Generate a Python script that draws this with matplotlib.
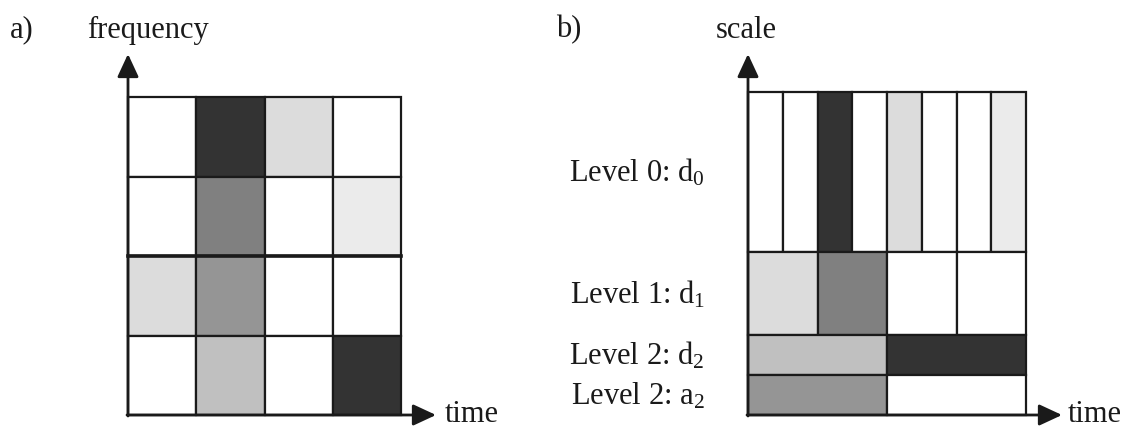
import matplotlib
matplotlib.use('Agg')
import matplotlib.pyplot as plt
from matplotlib.patches import Rectangle

# gray level of each cell (0 = black, 255 = white), top row first
tf_shades = [
    [255, 51, 220, 255],
    [255, 128, 255, 235],
    [220, 149, 255, 255],
    [255, 192, 255, 51],
]

# wavelet levels, top to bottom: label, subscript, gray levels of the cells
level_names = ['Level 0: d', 'Level 1: d', 'Level 2: d', 'Level 2: a']
level_subs = ['0', '1', '2', '2']
level_shades = [
    [255, 255, 51, 255, 220, 255, 255, 235],
    [220, 128, 255, 255],
    [192, 51],
    [149, 255],
]
level_heights = [160, 83, 40, 40]

W, H = 1129, 428
plt.rcParams['font.family'] = ['Liberation Serif', 'DejaVu Serif']
plt.rcParams['mathtext.fontset'] = 'custom'
plt.rcParams['mathtext.rm'] = 'Liberation Serif'
plt.rcParams['mathtext.default'] = 'regular'

fig = plt.figure(figsize=(W / 100, H / 100), dpi=100)
ax = fig.add_axes([0, 0, 1, 1])
ax.set_xlim(0, W)
ax.set_ylim(H, 0)
ax.axis('off')

fs = 22
ink = '#1a1a1a'


def gray(v):
    return (v / 255, v / 255, v / 255)


def axes_arrows(x0, y0, top, right):
    style = '-|>,head_width=0.65,head_length=1.4'
    ax.annotate('', xy=(x0, top), xytext=(x0, y0 + 1),
                arrowprops=dict(arrowstyle=style, lw=2, color=ink,
                                shrinkA=0, shrinkB=0))
    ax.annotate('', xy=(right, y0), xytext=(x0 - 1, y0),
                arrowprops=dict(arrowstyle=style, lw=2, color=ink,
                                shrinkA=0, shrinkB=0))


# a) time-frequency tiling
ax_l, ax_r, ax_t, ax_b = 128, 401, 97, 415
nrows, ncols = len(tf_shades), len(tf_shades[0])
cw = (ax_r - ax_l) / ncols
ch = (ax_b - ax_t) / nrows
for i, row in enumerate(tf_shades):
    for j, v in enumerate(row):
        ax.add_patch(Rectangle((ax_l + j * cw, ax_t + i * ch), cw, ch,
                               facecolor=gray(v), edgecolor=ink, lw=1.6))
ax.plot([ax_l, ax_r], [ax_t + 2 * ch] * 2, color=ink, lw=2.6)
axes_arrows(ax_l, ax_b, 54, 436)
ax.text(10, 30, 'a)', fontsize=fs, color=ink, va='center')
ax.text(87, 30, 'frequency', fontsize=fs, color=ink, va='center')
ax.text(445, 414, 'time', fontsize=fs, color=ink, va='center')

# b) wavelet decomposition tiling
bx_l, bx_r, by_t, by_b = 748, 1026, 92, 415
y = by_t
for name, sub, shades, h in zip(level_names, level_subs, level_shades, level_heights):
    w = (bx_r - bx_l) / len(shades)
    for j, v in enumerate(shades):
        ax.add_patch(Rectangle((bx_l + j * w, y), w, h,
                               facecolor=gray(v), edgecolor=ink, lw=1.6))
    ax.text(705, y + h / 2 + 1, name + '$_{' + sub + '}$', fontsize=fs,
            color=ink, ha='right', va='center')
    y += h
axes_arrows(bx_l, by_b, 54, 1062)
ax.text(556, 30, 'b)', fontsize=fs, color=ink, va='center')
ax.text(716, 30, 'scale', fontsize=fs, color=ink, va='center')
ax.text(1068, 414, 'time', fontsize=fs, color=ink, va='center')

fig.savefig('out.png', dpi=100)
